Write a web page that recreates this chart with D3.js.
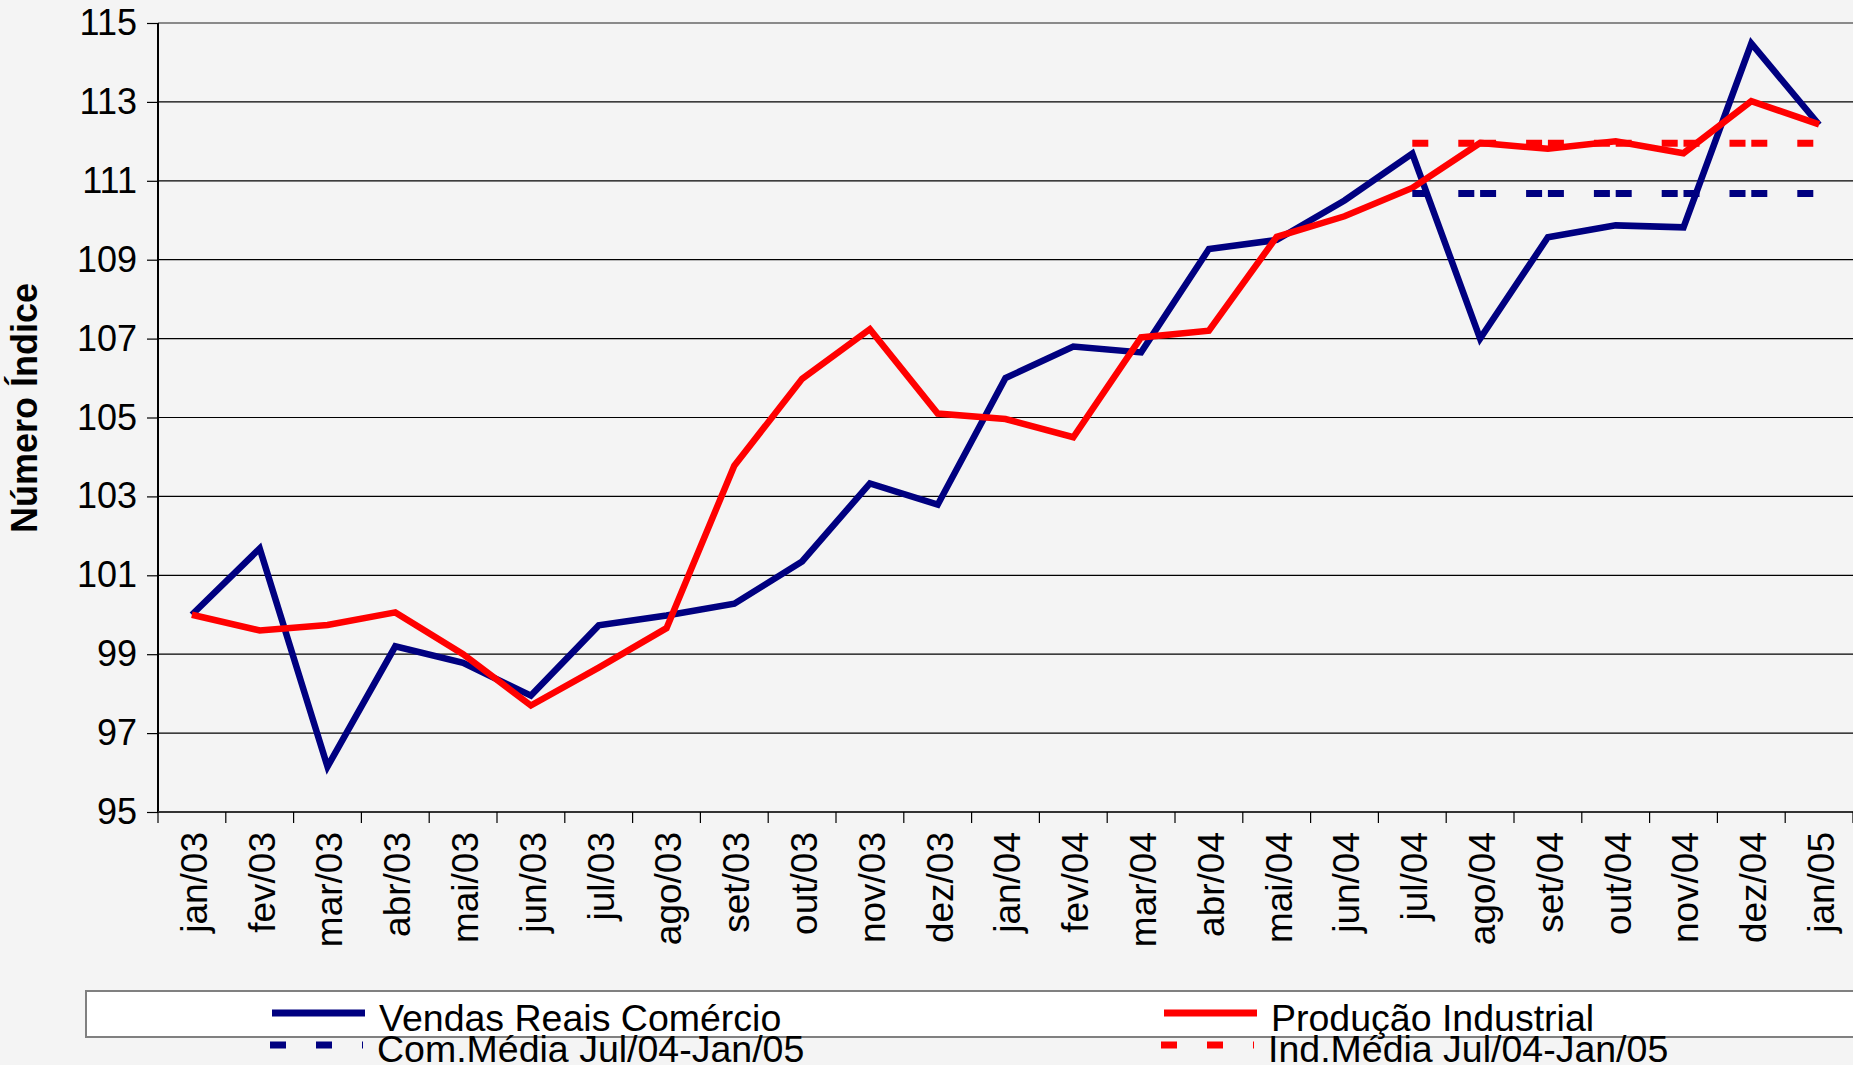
<!DOCTYPE html>
<html>
<head>
<meta charset="utf-8">
<script src="https://cdn.jsdelivr.net/npm/d3@7"></script>
<style>
  html, body { margin: 0; padding: 0; background: #f4f4f4; overflow: hidden; }
  svg { display: block; font-family: "Liberation Sans", Arial, sans-serif; }
</style>
</head>
<body>
<svg id="chart" width="1853" height="1065"></svg>
<script>
// ---- data ----
const categories = ["jan/03","fev/03","mar/03","abr/03","mai/03","jun/03","jul/03","ago/03","set/03","out/03","nov/03","dez/03",
                    "jan/04","fev/04","mar/04","abr/04","mai/04","jun/04","jul/04","ago/04","set/04","out/04","nov/04","dez/04","jan/05"];
const vendas   = [100.0,101.68,96.15,99.2,98.78,97.95,99.73,99.98,100.28,101.35,103.33,102.79,
                  106.0,106.8,106.65,109.27,109.5,110.5,111.69,107.0,109.57,109.87,109.82,114.48,112.42];
const producao = [100.0,99.6,99.74,100.06,99.0,97.7,98.66,99.66,103.78,105.98,107.24,105.1,
                  104.96,104.5,107.03,107.2,109.58,110.1,110.82,111.96,111.81,112.0,111.7,113.02,112.43];
const mediaCategories = ["jul/04","ago/04","set/04","out/04","nov/04","dez/04","jan/05"];
const comMedia = [110.68,110.68,110.68,110.68,110.68,110.68,110.68];
const indMedia = [111.95,111.95,111.95,111.95,111.95,111.95,111.95];
const yTicks = [95,97,99,101,103,105,107,109,111,113,115];
const seriesNames = ["Vendas Reais Comércio","Produção Industrial","Com.Média Jul/04-Jan/05","Ind.Média Jul/04-Jan/05"];

const BLUE = "#000080", RED = "#ff0000";

const svg = d3.select("#chart");
const pLeft = 158, pRight = 1853, pTop = 23, pBottom = 812;

const x = d3.scaleBand().domain(categories).range([pLeft, pRight]).paddingInner(0).paddingOuter(0);
const cx = d => x(d) + x.bandwidth() / 2;
const y = d3.scaleLinear().domain([95, 115]).range([pBottom, pTop]);

// gridlines
svg.append("g").selectAll("line").data(yTicks.filter(v => v > 95)).join("line")
  .attr("x1", pLeft).attr("x2", pRight)
  .attr("y1", d => y(d)).attr("y2", d => y(d))
  .attr("stroke", d => d === 115 ? "#8a8a8a" : "#000")
  .attr("stroke-width", d => d === 115 ? 2 : 1.2);

// y axis
const yAxis = d3.axisLeft(y).tickValues(yTicks).tickSize(11).tickPadding(10).tickFormat(d3.format("d"));
const gy = svg.append("g").attr("transform", `translate(${pLeft},0)`).call(yAxis);
gy.select(".domain").attr("stroke", "#000").attr("stroke-width", 2).attr("d", `M0,${y(115)}V${y(95)}`);
gy.selectAll(".tick line").attr("stroke", "#000").attr("stroke-width", 1.2);
gy.selectAll(".tick text").attr("font-size", 36).attr("fill", "#000")
  .attr("font-family", "'Liberation Sans', Arial, sans-serif");

// x axis line and boundary ticks
const gx = svg.append("g");
gx.append("line").attr("x1", pLeft).attr("x2", pRight).attr("y1", pBottom).attr("y2", pBottom)
  .attr("stroke", "#333").attr("stroke-width", 2);
gx.selectAll("line.tk").data(categories.concat(["__end"])).join("line").attr("class", "tk")
  .attr("x1", (d, i) => i < categories.length ? x(d) : pRight)
  .attr("x2", (d, i) => i < categories.length ? x(d) : pRight)
  .attr("y1", pBottom).attr("y2", pBottom + 11)
  .attr("stroke", "#000").attr("stroke-width", 1.2);
gx.selectAll("text").data(categories).join("text")
  .attr("transform", d => `translate(${cx(d)},${pBottom + 20}) rotate(-90)`)
  .attr("text-anchor", "end").attr("dy", "0.4em")
  .attr("font-size", 37).attr("fill", "#000")
  .text(d => d);

// y axis title
svg.append("text")
  .attr("transform", `translate(37,408) rotate(-90)`)
  .attr("text-anchor", "middle")
  .attr("font-size", 36).attr("font-weight", "bold").attr("fill", "#000")
  .text("Número Índice");

// lines
const line = d3.line().x(d => cx(d[0])).y(d => y(d[1]));
function solid(vals, color) {
  svg.append("path").datum(categories.map((c, i) => [c, vals[i]]))
    .attr("d", line).attr("fill", "none").attr("stroke", color)
    .attr("stroke-width", 6.5).attr("stroke-linejoin", "miter");
}
function dashed(vals, color) {
  const pts = mediaCategories.map((c, i) => [c, vals[i]]);
  const segs = d3.pairs(pts);
  svg.append("g").selectAll("path").data(segs).join("path")
    .attr("d", d => line(d)).attr("fill", "none").attr("stroke", color)
    .attr("stroke-width", 7).attr("stroke-dasharray", "16 30");
}
solid(vendas, BLUE);
solid(producao, RED);
dashed(comMedia, BLUE);
dashed(indMedia, RED);

// legend
const lg = svg.append("g");
lg.append("rect").attr("x", 86).attr("y", 991).attr("width", 1800).attr("height", 46)
  .attr("fill", "#fff").attr("stroke", "#808080").attr("stroke-width", 2);
const legendItems = [
  {name: seriesNames[0], color: BLUE, dash: null, x0: 272, ty: 1031, ly: 1013},
  {name: seriesNames[1], color: RED, dash: null, x0: 1164, ty: 1031, ly: 1013},
  {name: seriesNames[2], color: BLUE, dash: "16 30", x0: 270, ty: 1062, ly: 1045},
  {name: seriesNames[3], color: RED, dash: "16 30", x0: 1161, ty: 1062, ly: 1045}
];
legendItems.forEach(it => {
  lg.append("line").attr("x1", it.x0).attr("x2", it.x0 + 93).attr("y1", it.ly).attr("y2", it.ly)
    .attr("stroke", it.color).attr("stroke-width", 7)
    .attr("stroke-dasharray", it.dash);
  lg.append("text").attr("x", it.x0 + 107).attr("y", it.ty)
    .attr("font-size", 37.5).attr("fill", "#000").text(it.name);
});
</script>
</body>
</html>
